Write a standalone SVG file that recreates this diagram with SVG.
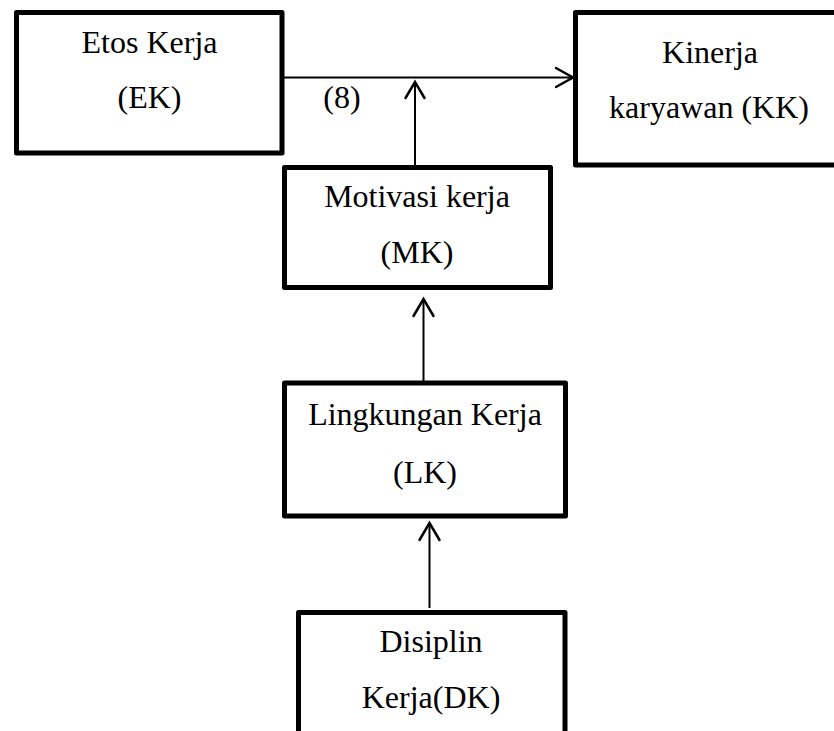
<svg xmlns="http://www.w3.org/2000/svg" width="834" height="731" viewBox="0 0 834 731">
<style>
.box{fill:#fff;stroke:#000;stroke-width:5;stroke-linejoin:round}
.t{font-family:"Liberation Serif","Times New Roman",serif;font-size:32px;fill:#000;text-anchor:middle}
.c{fill:none;stroke:#000;stroke-width:2}
.h{fill:none;stroke:#000;stroke-width:2.5;stroke-linecap:round;stroke-linejoin:miter}
</style>
<rect width="834" height="731" fill="#fff"/>
<g id="connectors">
<line class="c" x1="284" y1="77.5" x2="573" y2="77.5"/>
<polyline class="h" points="556,68 573,77.5 556,87"/>
<line class="c" x1="415" y1="165" x2="415" y2="81"/>
<polyline class="h" points="405.5,98 415,82 424.5,98"/>
<line class="c" x1="423.5" y1="381" x2="423.5" y2="299"/>
<polyline class="h" points="413.5,316 423.5,299 433.5,316"/>
<line class="c" x1="429.5" y1="608" x2="429.5" y2="523"/>
<polyline class="h" points="419.5,540 429.5,523 439.5,540"/>
</g>
<g id="EK">
<rect class="box" x="16.5" y="12.5" width="265.5" height="140.5"/>
<text class="t" x="149.5" y="53">Etos Kerja</text>
<text class="t" x="149.5" y="108">(EK)</text>
</g>
<text class="t" x="342" y="108">(8)</text>
<g id="KK">
<rect class="box" x="575.5" y="12.5" width="270" height="152.5"/>
<text class="t" x="710" y="63">Kinerja</text>
<text class="t" x="709" y="118">karyawan (KK)</text>
</g>
<g id="MK">
<rect class="box" x="284.5" y="167.5" width="266" height="120"/>
<text class="t" x="417" y="207">Motivasi kerja</text>
<text class="t" x="417" y="263">(MK)</text>
</g>
<g id="LK">
<rect class="box" x="284.5" y="383" width="281" height="133"/>
<text class="t" x="425" y="425">Lingkungan Kerja</text>
<text class="t" x="425" y="483">(LK)</text>
</g>
<g id="DK">
<rect class="box" x="298.5" y="612.5" width="266.5" height="140"/>
<text class="t" x="431" y="652">Disiplin</text>
<text class="t" x="431" y="708">Kerja(DK)</text>
</g>
</svg>
